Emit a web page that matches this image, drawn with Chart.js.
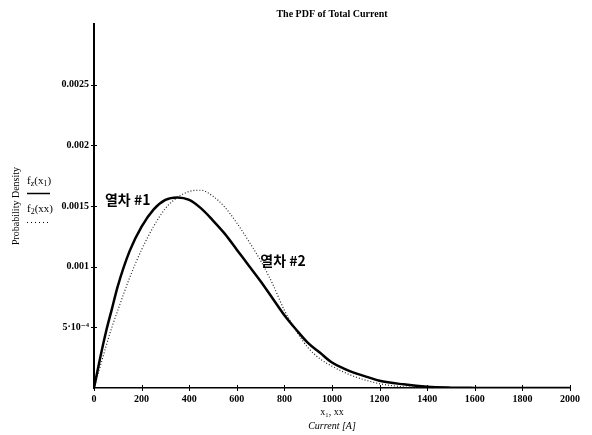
<!DOCTYPE html>
<html>
<head>
<meta charset="utf-8">
<script src="https://cdn.jsdelivr.net/npm/chart.js@4/dist/chart.umd.min.js"></script>
<style>
html,body{margin:0;padding:0;background:#fff;}
canvas{display:block;}
</style>
</head>
<body>
<canvas id="c" width="592" height="435"></canvas>
<script>
// ---- data ----
const currentA = [0,25,50,75,100,150,200,250,300,350,400,450,500,550,600,650,700,750,800,850,900,950,1000,1050,1100,1150,1200,1300,1400,1500,1600,1800,2000];
const train1 = [0,0.00024,0.00046,0.00065,0.00084,0.00113,0.00133,0.00147,0.00155,0.00157,0.00155,0.00148,0.00138,0.00127,0.00114,0.00101,0.00088,0.00074,0.00060,0.00048,0.00037,0.00029,0.00021,0.00016,0.00012,0.00009,0.00006,0.00003,0.00001,0.000003,0.000001,0,0];
const train2 = [0,0.00017,0.00034,0.00050,0.00064,0.00091,0.00114,0.00133,0.00148,0.00157,0.00162,0.00163,0.00158,0.00149,0.00136,0.00121,0.00105,0.00086,0.00064,0.00047,0.00033,0.00024,0.00018,0.00013,0.00009,0.00006,0.000035,0.00001,0.000002,0,0,0,0];
const xTickValues = [0,200,400,600,800,1000,1200,1400,1600,1800,2000];
const xTickLabels = ['0','200','400','600','800','1000','1200','1400','1600','1800','2000'];
const yTickValues = [0.0005,0.001,0.0015,0.002,0.0025];
const yTickLabels = ['5\u00B710\u207B\u2074','0.001','0.0015','0.002','0.0025'];
const titleText = 'The PDF of Total Current';
const xTitle1 = 'x\u2081, xx';
const xTitle2 = 'Current [A]';
const yTitle = 'Probability Density';
const seriesNames = ['열차 #1','열차 #2'];
const notePos = [{x:46,y:0.00155},{x:699,y:0.00105}];

const serif = '"Liberation Serif","DejaVu Serif",serif';
const toPts = (ys)=> currentA.map((x,i)=>({x:x,y:ys[i]}));

const deco = {
  id:'deco',
  afterDraw(chart){
    const ctx = chart.ctx, xs = chart.scales.x, ys = chart.scales.y, ca = chart.chartArea;
    ctx.save();
    ctx.strokeStyle = '#000'; ctx.lineWidth = 1;
    // cross tick marks
    xTickValues.forEach(v=>{const px = Math.round(xs.getPixelForValue(v))+0.5; ctx.beginPath(); ctx.moveTo(px, ca.bottom-3); ctx.lineTo(px, ca.bottom+3); ctx.stroke();});
    yTickValues.forEach(v=>{const py = Math.round(ys.getPixelForValue(v))+0.5; ctx.beginPath(); ctx.moveTo(ca.left-3, py); ctx.lineTo(ca.left+3, py); ctx.stroke();});
    ctx.fillStyle = '#000';
    ctx.textAlign = 'center'; ctx.textBaseline = 'middle';
    const cx = (ca.left+ca.right)/2;
    ctx.font = 'bold 10px '+serif;
    ctx.fillText(titleText, cx, 14);
    ctx.font = '10px '+serif;
    ctx.fillText(xTitle1, cx, 412);
    ctx.font = 'italic 10px '+serif;
    ctx.fillText(xTitle2, cx, 426);
    // y title rotated
    ctx.save();
    ctx.translate(16, (ca.top+ca.bottom)/2);
    ctx.rotate(-Math.PI/2);
    ctx.font = '10px '+serif;
    ctx.fillText(yTitle, 0, 0);
    ctx.restore();
    // legend (Mathcad-style)
    ctx.textAlign = 'left';
    const drawSub = (parts, x, y)=>{
      let cx2 = x;
      parts.forEach(p=>{
        ctx.font = (p[1]? '8px ':'11px ')+serif;
        ctx.fillText(p[0], cx2, y + (p[1]?3:0));
        cx2 += ctx.measureText(p[0]).width;
      });
    };
    drawSub([['f',0],['z',1],['(x',0],['1',1],[')',0]], 27, 181);
    ctx.lineWidth = 1.5;
    ctx.beginPath(); ctx.moveTo(27,193.5); ctx.lineTo(50,193.5); ctx.stroke();
    drawSub([['f',0],['2',1],['(xx)',0]], 27, 209);
    ctx.lineWidth = 1; ctx.setLineDash([1,3]);
    ctx.beginPath(); ctx.moveTo(27,222.5); ctx.lineTo(50,222.5); ctx.stroke();
    ctx.setLineDash([]);
    // series annotations
    ctx.font = 'bold 14px "Noto Sans CJK KR", sans-serif';
    seriesNames.forEach((t,i)=>{
      ctx.fillText(t, xs.getPixelForValue(notePos[i].x), ys.getPixelForValue(notePos[i].y));
    });
    ctx.restore();
  }
};

new Chart(document.getElementById('c'), {
  type:'line',
  data:{
    datasets:[
      {label:seriesNames[0], data:toPts(train1), borderColor:'#000', borderWidth:2.5, pointRadius:0, cubicInterpolationMode:'monotone', fill:false},
      {label:seriesNames[1], data:toPts(train2), borderColor:'#222', borderWidth:1.2, borderDash:[1,2], pointRadius:0, cubicInterpolationMode:'monotone', fill:false}
    ]
  },
  options:{
    responsive:false, animation:false, devicePixelRatio:1,
    layout:{padding:{top:24,right:22,left:0,bottom:0}},
    plugins:{legend:{display:false}, title:{display:false}, tooltip:{enabled:false}},
    scales:{
      x:{type:'linear', min:0, max:2000,
         afterBuildTicks:(s)=>{s.ticks = xTickValues.map(v=>({value:v}));},
         afterFit:(s)=>{s.height = 47;},
         grid:{display:false, drawTicks:false},
         border:{display:true, color:'#000', width:1.5},
         ticks:{color:'#000', padding:5, maxRotation:0, autoSkip:false, font:{family:serif, size:10, weight:'bold'},
                callback:(v,i)=>xTickLabels[i]}
      },
      y:{type:'linear', min:0, max:0.003,
         afterBuildTicks:(s)=>{s.ticks = yTickValues.map(v=>({value:v}));},
         afterFit:(s)=>{s.width = 94;},
         grid:{display:false, drawTicks:false},
         border:{display:true, color:'#000', width:2},
         ticks:{color:'#000', padding:5, autoSkip:false, font:{family:serif, size:10, weight:'bold'},
                callback:(v,i)=>yTickLabels[i]}
      }
    }
  },
  plugins:[deco]
});
</script>
</body>
</html>
